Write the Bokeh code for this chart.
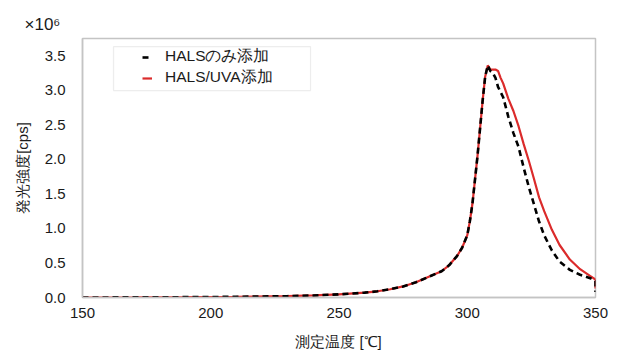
from bokeh.plotting import figure
from bokeh.models import Range1d, Legend, LegendItem, Title, BoxAnnotation, FixedTicker, CustomJSTickFormatter
from bokeh.embed import file_html
from bokeh.resources import INLINE

# Shared rising part (both samples), temperature in degC, intensity in 1e6 cps
temp_rise = [150, 170, 190, 210, 230, 240, 250, 260, 265, 270, 275, 280, 285, 290,
             293, 296, 298, 300, 301, 302, 303, 304, 305, 306, 307, 308]
val_rise = [0.0, 0.002, 0.005, 0.01, 0.02, 0.03, 0.045, 0.07, 0.09, 0.12, 0.16, 0.22,
            0.30, 0.38, 0.47, 0.60, 0.72, 0.90, 1.10, 1.35, 1.70, 2.05, 2.45, 2.85, 3.20, 3.36]

# HALS only (dashed black) after peak
temp_hals = [309, 310, 311, 312, 314, 316, 318, 320, 322, 324, 326, 328, 330, 333,
             336, 340, 344, 348, 350, 350]
val_hals = [3.28, 3.25, 3.18, 3.05, 2.90, 2.62, 2.38, 2.18, 1.88, 1.60, 1.35, 1.10,
            0.90, 0.68, 0.52, 0.40, 0.33, 0.28, 0.24, 0.08]

# HALS/UVA (red) after peak
temp_uva = [309, 310, 311, 312, 313, 314, 316, 318, 320, 322, 324, 326, 328, 330,
            333, 336, 340, 344, 348, 350, 350]
val_uva = [3.30, 3.30, 3.30, 3.28, 3.18, 3.10, 2.88, 2.70, 2.48, 2.22, 1.98, 1.72,
           1.45, 1.25, 0.98, 0.76, 0.55, 0.41, 0.31, 0.26, 0.13]

y_ticks = [0.0, 0.5, 1.0, 1.5, 2.0, 2.5, 3.0, 3.5]
x_ticks = [150, 200, 250, 300, 350]

labels = ["HALSのみ添加", "HALS/UVA添加"]
x_label = "測定温度 [℃]"
y_label = "発光強度[cps]"
scale_label = "×10⁶"

FONT = "Liberation Sans"
TXT = "#1a1a1a"
GRAY = "#c4c4c4"
RED = "#db2b2b"

p = figure(width=619, height=352, output_backend="svg", toolbar_location=None,
           x_range=Range1d(150, 350), y_range=Range1d(0, 3.75),
           min_border_left=82, min_border_right=24, min_border_top=38, min_border_bottom=55)
p.background_fill_color = "white"
p.border_fill_color = "white"
p.outline_line_color = GRAY
p.outline_line_width = 1.5
p.grid.visible = False

for ax in (p.xaxis[0], p.yaxis[0]):
    ax.axis_line_color = GRAY
    ax.axis_line_width = 1.5
    ax.major_tick_line_color = None
    ax.minor_tick_line_color = None
    ax.major_tick_out = 0
    ax.major_tick_in = 0
    ax.minor_tick_out = 0
    ax.major_label_text_font = FONT
    ax.major_label_text_font_size = "15px"
    ax.major_label_text_color = TXT
    ax.axis_label_text_font = FONT
    ax.axis_label_text_font_size = "15px"
    ax.axis_label_text_font_style = "normal"
    ax.axis_label_text_color = TXT

p.xaxis.ticker = FixedTicker(ticks=x_ticks)
p.yaxis.ticker = FixedTicker(ticks=y_ticks)
p.yaxis.formatter = CustomJSTickFormatter(code="return tick.toFixed(1);")
p.xaxis.axis_label = x_label
p.yaxis.axis_label = y_label
p.xaxis.major_label_standoff = 10
p.xaxis.axis_label_standoff = 12
p.yaxis.major_label_standoff = 17
p.yaxis.axis_label_standoff = 11

t_h = temp_rise + temp_hals
v_h = val_rise + val_hals
t_u = temp_rise + temp_uva
v_u = val_rise + val_uva

r_uva = p.line(t_u, v_u, line_color=RED, line_width=2.2)
r_hals = p.line(t_h, v_h, line_color="black", line_width=2.6, line_dash="6 4")

# legend frame
p.add_layout(BoxAnnotation(left=162.1, right=238.9, top=3.632, bottom=2.996,
                           fill_color="white", fill_alpha=1.0,
                           line_color=GRAY, line_width=1.2, level="overlay"))

legend = Legend(items=[LegendItem(label=labels[0], renderers=[r_hals]),
                       LegendItem(label=labels[1], renderers=[r_uva])],
                location=(60, 209), padding=0, margin=0, spacing=0,
                glyph_width=10, glyph_height=20, label_height=20, label_standoff=13,
                border_line_alpha=0, background_fill_alpha=0,
                label_text_font=FONT, label_text_font_size="15.5px", label_text_color=TXT)
p.add_layout(legend)

p.add_layout(Title(text=scale_label, align="left", offset=-58, standoff=10,
                   text_font=FONT, text_font_size="17px", text_font_style="normal",
                   text_color=TXT), "above")

open("out.html", "w").write(file_html(p, INLINE))
